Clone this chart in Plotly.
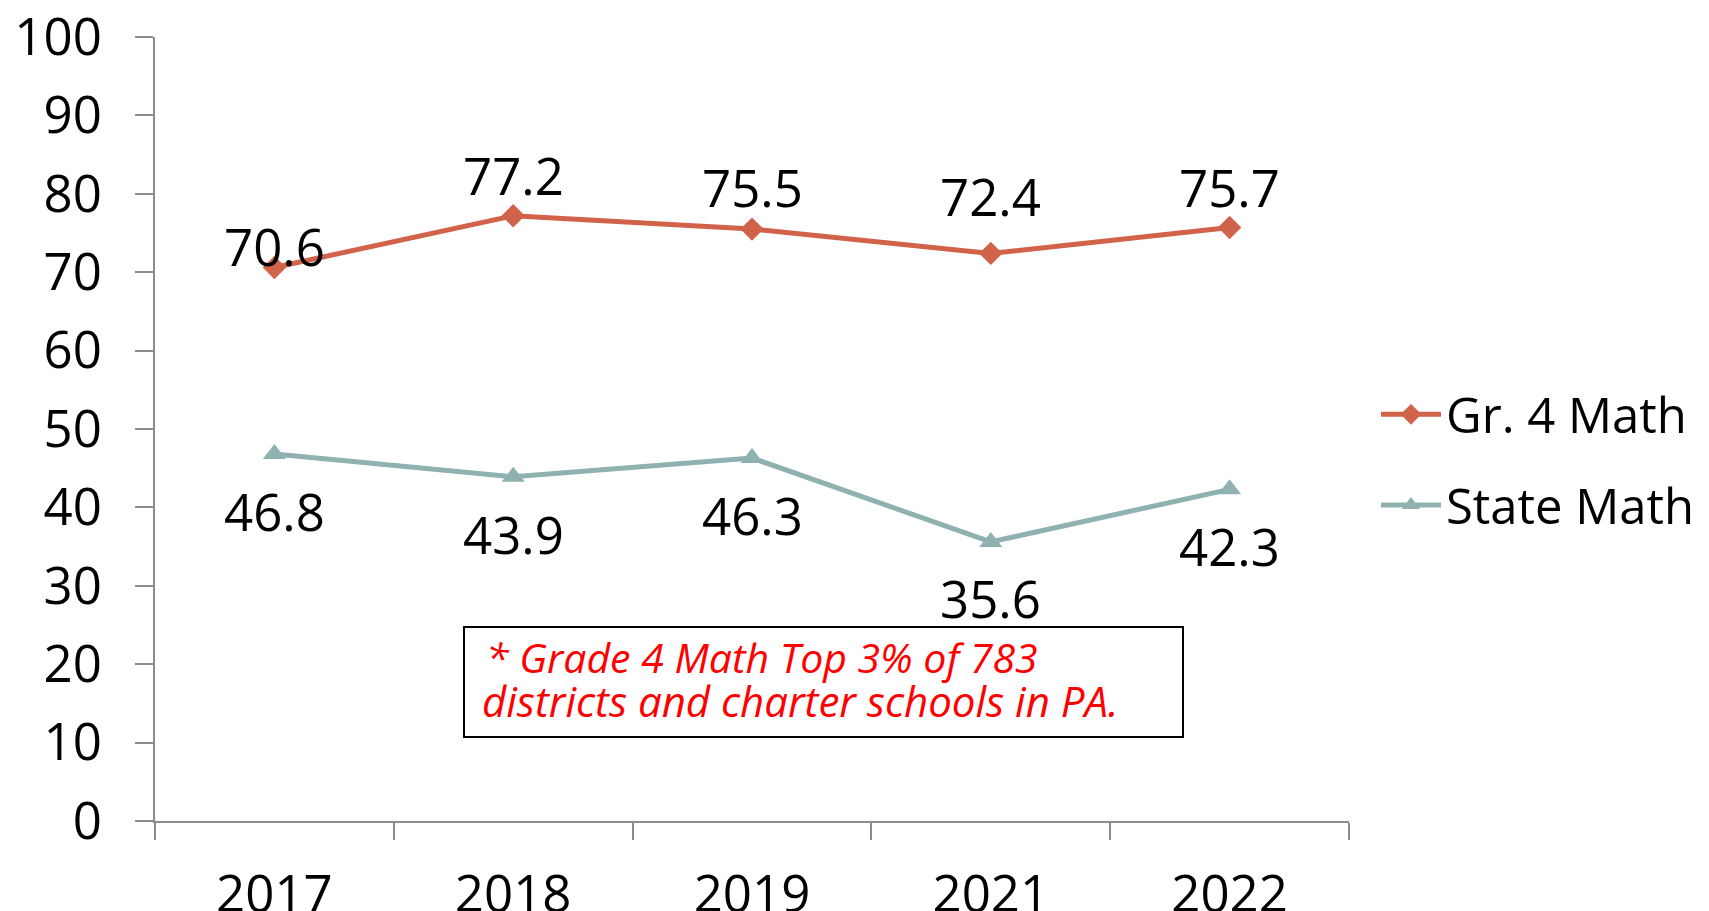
import plotly.graph_objects as go

years = ["2017", "2018", "2019", "2021", "2022"]
gr4_math = [70.6, 77.2, 75.5, 72.4, 75.7]
state_math = [46.8, 43.9, 46.3, 35.6, 42.3]
series_names = ["Gr. 4 Math", "State Math"]
note_lines = ["* Grade 4 Math Top 3% of 783", "districts and charter schools in PA."]

gr4_color = "#D1634A"
state_color = "#8FB1B0"
FONT = "Open Sans, DejaVu Sans, sans-serif"

# label offsets (px) per point, above for Gr.4, below for State
gr4_shift = [22, 41, 42, 57, 41]
state_shift = [-57, -57, -57, -56, -57]

fig = go.Figure()
fig.add_trace(go.Scatter(
    x=years, y=gr4_math, name=series_names[0], mode="lines+markers",
    line=dict(color=gr4_color, width=5),
    marker=dict(symbol="diamond", size=18, color=gr4_color),
    legendgroup="a"))
fig.add_trace(go.Scatter(
    x=years, y=state_math, name=series_names[1], mode="lines+markers",
    line=dict(color=state_color, width=5),
    marker=dict(symbol="triangle-up", size=20, color=state_color),
    legendgroup="b"))

# category axis: annotations use the category serial number
for i, (yv, s) in enumerate(zip(gr4_math, gr4_shift)):
    fig.add_annotation(x=i, y=yv, text=f"{yv:.1f}", showarrow=False, yshift=s,
                       font=dict(size=51, color="black", family=FONT))
for i, (yv, s) in enumerate(zip(state_math, state_shift)):
    fig.add_annotation(x=i, y=yv, text=f"{yv:.1f}", showarrow=False, yshift=s,
                       font=dict(size=51, color="black", family=FONT))

# note box
fig.add_shape(type="rect", xref="paper", yref="paper",
              x0=(464 - 155) / 1194, x1=(1183 - 155) / 1194,
              y0=(821 - 737) / 784, y1=(821 - 627) / 784,
              line=dict(color="black", width=2), fillcolor="white", layer="below")
fig.add_annotation(xref="paper", yref="paper", x=(484 - 155) / 1194, y=(821 - 657) / 784,
                   xanchor="left", yanchor="middle", showarrow=False,
                   text=f"<i>{note_lines[0]}</i>",
                   font=dict(size=41, color="#FF0000", family=FONT))
fig.add_annotation(xref="paper", yref="paper", x=(480 - 155) / 1194, y=(821 - 700) / 784,
                   xanchor="left", yanchor="middle", showarrow=False,
                   text=f"<i>{note_lines[1]}</i>",
                   font=dict(size=42, color="#FF0000", family=FONT))

axis_col = "#8C8C8C"
fig.update_xaxes(type="category", categoryorder="array", categoryarray=years,
                 range=[-0.5, len(years) - 0.5],
                 showline=True, linecolor=axis_col, linewidth=2,
                 ticks="outside", tickson="boundaries", ticklen=17, tickwidth=2,
                 tickcolor=axis_col, showgrid=False, zeroline=False,
                 tickfont=dict(size=51, color="black", family=FONT),
                 ticklabelstandoff=28, ticklabeloverflow="allow")
fig.update_yaxes(range=[0, 100], dtick=10, showline=True, linecolor=axis_col, linewidth=2,
                 ticks="outside", ticklen=18, tickwidth=2, tickcolor=axis_col,
                 showgrid=False, zeroline=False,
                 tickfont=dict(size=51, color="black", family=FONT),
                 ticklabelstandoff=23, ticklabeloverflow="allow")

fig.update_layout(
    width=1709, height=911,
    paper_bgcolor="white", plot_bgcolor="white",
    margin=dict(l=147, r=368, t=29, b=98, autoexpand=False),
    showlegend=True,
    legend=dict(x=(1376 - 155) / 1194, y=(821 - 460) / 784, xref="paper", yref="paper",
                xanchor="left", yanchor="middle", traceorder="grouped", tracegroupgap=24,
                itemwidth=60,
                font=dict(size=49, color="black", family=FONT), bgcolor="rgba(0,0,0,0)"),
)

fig.write_html("out.html")
